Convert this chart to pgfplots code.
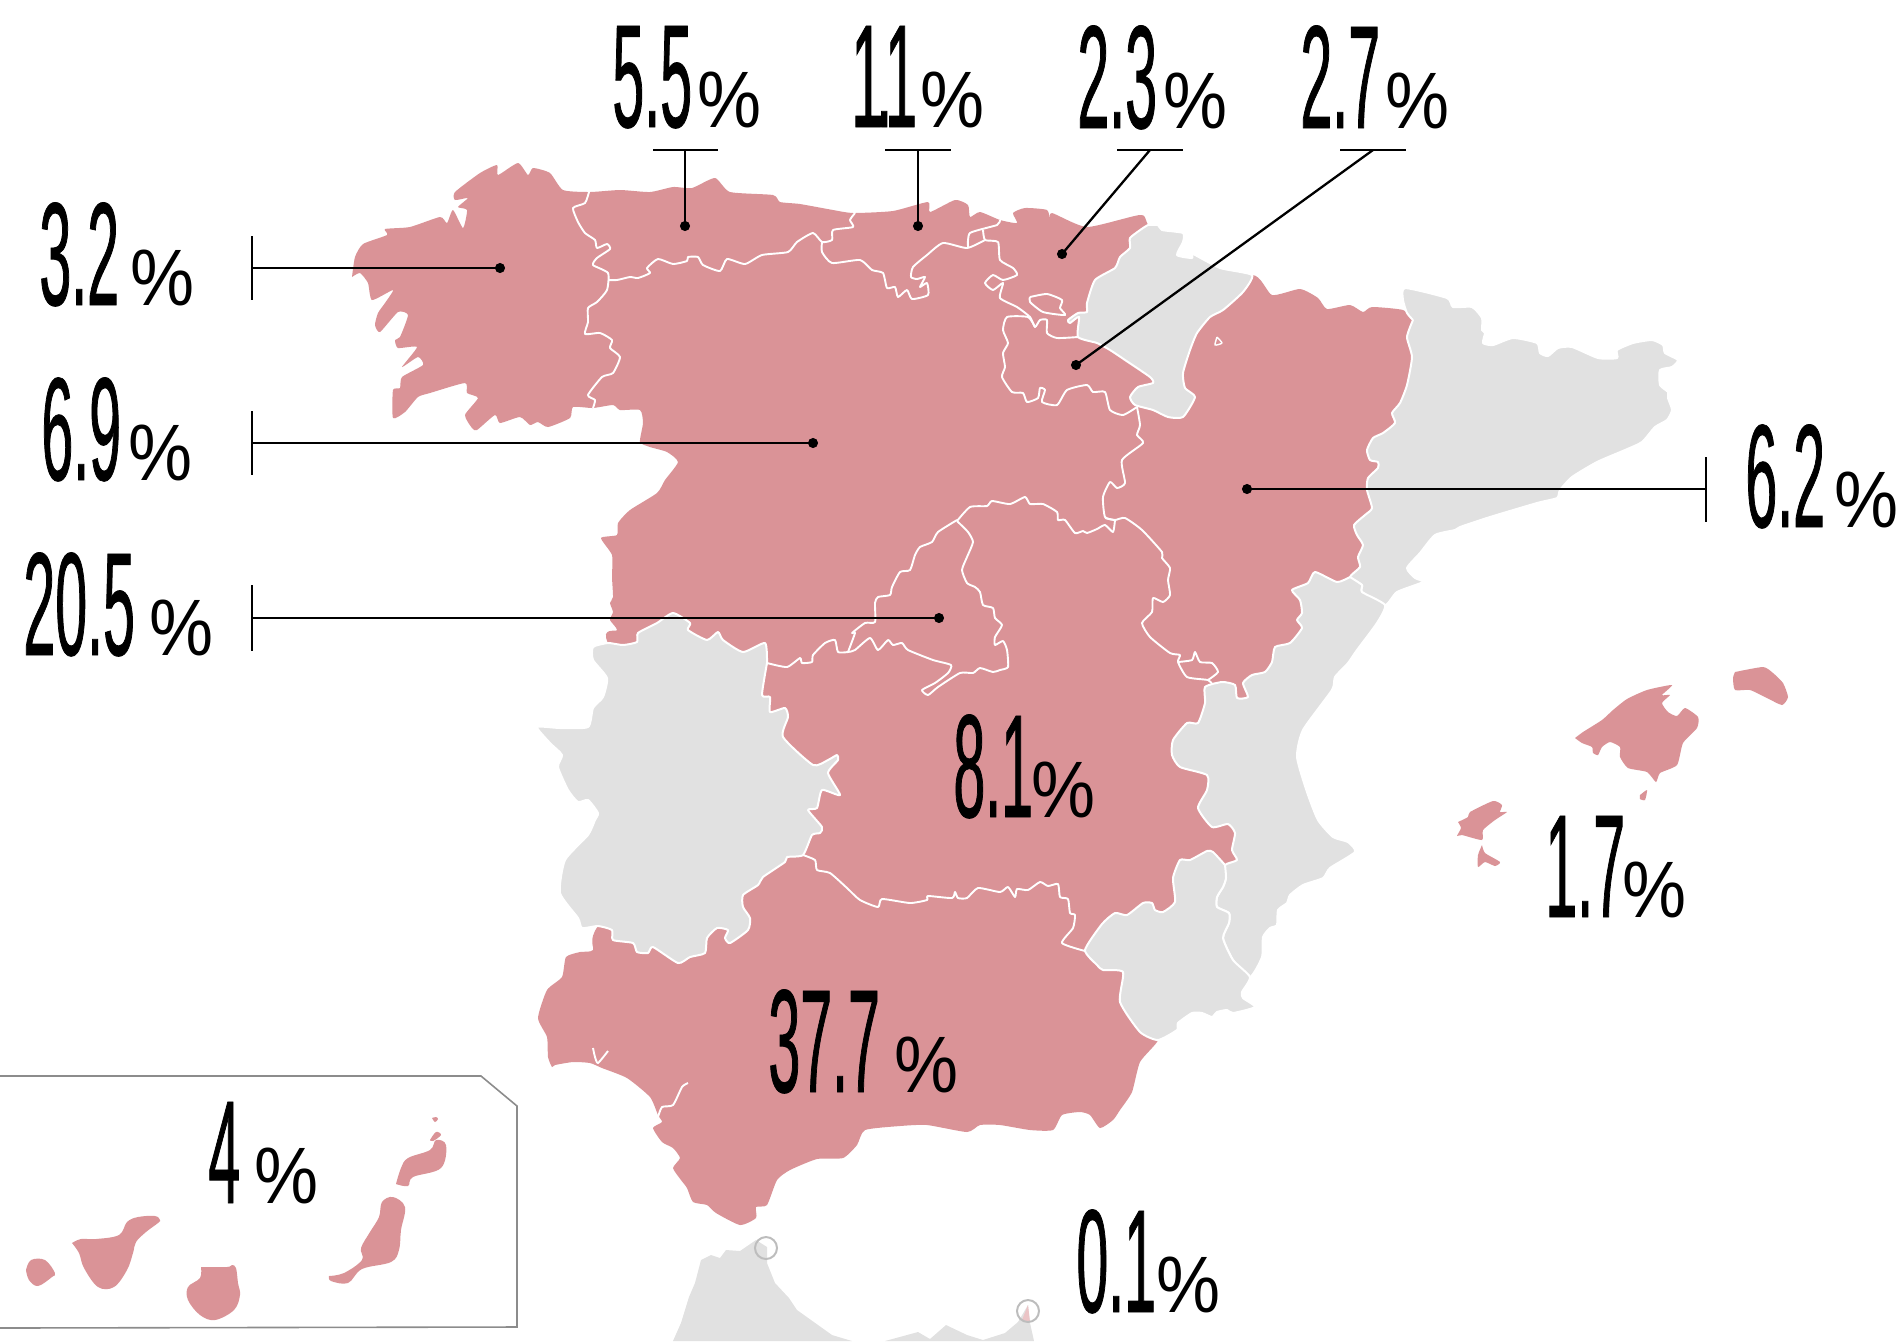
\documentclass[border=0pt]{standalone}
\usepackage{fontspec}
\usepackage{pgfplots}
\pgfplotsset{compat=1.18}
\definecolor{rosa}{HTML}{DA9397}
\definecolor{gris}{HTML}{E1E1E1}
\definecolor{marco}{HTML}{8C8C8C}
\definecolor{anillo}{HTML}{BDBDBD}
\newfontfamily\numf[FakeStretch=0.39,FakeBold=0.5]{Liberation Sans}
\newfontfamily\pctf[FakeStretch=0.9]{Liberation Sans}
\newcommand{\pct}[4]{%
  \node[anchor=base west,inner sep=0pt,text=black] at (axis cs:#1,#2) {\fontsize{73.5}{74}\numf #3};
  \node[anchor=base west,inner sep=0pt,text=black] at (axis cs:#4,#2) {\fontsize{40}{40}\pctf\%};}
\tikzset{
  tierra/.style={fill=rosa,draw=none,smooth,tension=.35},
  region/.style={fill=gris,draw=white,line width=1pt,line join=round,smooth,tension=.35},
  borde/.style={draw=white,line width=.95pt,line join=round,fill=none,smooth,tension=.35},
  isla/.style={fill=rosa,draw=none,smooth,tension=.6},
  guia/.style={draw=black,line width=1.15pt},
}
\begin{document}
\begin{tikzpicture}
\begin{axis}[name=a,width=950pt,height=670.5pt,scale only axis,hide axis,clip=false,
  xmin=0,xmax=1900,ymin=0,ymax=1341,y dir=reverse]

% peninsula, everything rosa; the grey regions go on top
\addplot[tierra] coordinates {
(352,277)(355,257)(363,244)(387,235)(385,229)(410,227)(440,217)(447,223)(453,210)(463,228)(467,210)(458,207)(468,198)(455,200)(455,192)(480,173)(497,165)(498,175)(518,163)(528,175)(533,168)(550,173)(563,190)(590,192)(620,190)(650,192)(673,187)(692,188)(715,178)(730,192)(773,195)(780,202)(800,204)(833,210)(853,213)(893,211)(928,202)(930,212)(955,200)(968,205)(970,217)(980,212)(1000,220)(1017,223)(1013,213)(1025,208)(1047,210)(1050,220)(1052,213)(1087,227)(1140,215)(1148,225)
(1180,300)(1252,275)
(1272,295)(1300,289)(1318,298)(1327,309)(1350,305)(1363,312)(1372,307)(1403,310)(1413,320)
(1407,337)(1412,357)(1407,385)(1400,403)(1392,413)(1395,423)(1383,433)(1373,438)(1367,450)(1370,460)(1378,462)(1378,468)(1368,478)(1367,490)(1372,508)(1365,515)(1354,525)(1357,535)(1363,545)(1358,557)(1360,567)(1350,577)
(1337,582)(1315,572)(1308,583)(1292,590)(1300,600)(1302,613)(1297,620)(1302,628)(1290,643)(1275,647)(1272,662)(1265,672)(1252,675)(1243,683)(1248,697)(1237,698)(1235,685)(1222,682)(1205,687)
(1205,703)(1198,723)(1187,723)(1173,740)(1172,755)(1180,767)(1207,775)(1207,790)(1198,808)(1212,827)(1228,824)(1235,833)(1232,850)(1237,860)(1225,865)
(1213,852)(1207,851)(1190,860)(1180,860)(1173,878)(1175,902)(1163,912)(1155,910)(1152,903)(1143,903)(1127,915)(1115,913)(1102,924)(1085,950)
(1097,965)(1103,970)(1123,972)(1120,1002)(1140,1032)(1158,1040)
(1140,1062)(1132,1092)(1120,1110)(1113,1120)(1100,1128)(1090,1115)(1080,1112)(1062,1115)(1053,1130)(1030,1130)(1000,1125)(980,1125)(967,1132)(927,1125)(900,1126)(865,1130)(857,1145)(843,1158)(817,1159)(790,1170)(777,1180)(767,1205)(756,1207)(756,1218)(740,1225)(716,1213)(707,1205)(693,1202)(687,1188)(681,1180)
(673,1168)(680,1158)(673,1148)(662,1142)(653,1128)(662,1122)(658,1115)(650,1097)(627,1078)(602,1068)(590,1063)(573,1062)(555,1065)(552,1067)(548,1057)(547,1037)(538,1018)(547,990)(562,977)(566,957)(580,952)(593,950)(598,926)
(700,800)(608,643)
(617,630)(610,620)(613,612)(610,603)(613,597)(612,577)(612,555)(601,538)(617,535)(618,523)(630,510)(657,493)(665,480)(678,462)(667,452)(650,447)(640,442)(643,423)(640,410)(620,410)(613,405)(593,408)(573,407)(570,418)(548,427)(538,422)(530,425)(520,417)(500,423)(495,415)(477,430)(472,428)(465,415)(478,398)(467,393)(465,383)(430,393)(418,397)(405,412)(393,418)(393,390)(400,388)(402,377)(423,365)(418,357)(402,367)(417,347)(398,348)(395,340)(400,337)(408,315)(398,312)(380,332)(375,325)(378,313)(385,303)(393,290)(372,300)(368,283)(360,273)(352,277)
};

% Navarra
\addplot[region] coordinates {
(1148,225)(1158,225)(1162,230)(1183,233)(1183,242)(1177,255)(1192,258)(1193,254)(1220,268)(1252,275)(1243,292)(1223,310)(1210,317)(1197,333)(1190,350)(1183,373)(1185,388)(1195,397)(1183,417)(1168,417)(1153,410)(1135,405)(1130,397)(1138,387)(1153,383)(1150,377)(1128,362)(1110,350)(1097,343)(1078,337)(1079,317)(1070,323)(1068,320)(1078,313)(1087,312)(1087,303)(1095,280)(1115,268)(1120,257)(1130,248)(1130,238)(1143,228)(1148,225)
};
% Catalunya
\addplot[region] coordinates {
(1413,320)(1407,337)(1412,357)(1407,385)(1400,403)(1392,413)(1395,423)(1383,433)(1373,438)(1367,450)(1370,460)(1378,462)(1378,468)(1368,478)(1367,490)(1372,508)(1365,515)(1354,525)(1357,535)(1363,545)(1358,557)(1360,567)(1350,577)(1362,585)(1362,592)(1385,605)(1397,592)(1423,582)(1415,578)(1407,568)(1420,553)(1435,535)(1455,530)(1460,527)(1490,517)(1537,503)(1557,498)(1560,490)(1572,477)(1597,462)(1625,450)(1642,442)(1655,427)(1667,420)(1672,410)(1668,398)(1668,392)(1660,385)(1660,370)(1672,367)(1678,360)(1665,353)(1663,345)(1652,340)(1633,343)(1617,350)(1617,358)(1598,358)(1572,347)(1558,348)(1548,356)(1540,353)(1537,343)(1513,338)(1493,345)(1483,343)(1485,333)(1482,330)(1482,318)(1472,307)(1453,307)(1447,298)(1405,288)(1403,300)(1407,313)(1413,320)
};
% Comunitat Valenciana
\addplot[region] coordinates {
(1350,577)(1337,582)(1315,572)(1308,583)(1292,590)(1300,600)(1302,613)(1297,620)(1302,628)(1290,643)(1275,647)(1272,662)(1265,672)(1252,675)(1243,683)(1248,697)(1237,698)(1235,685)(1222,682)(1205,687)(1205,703)(1198,723)(1187,723)(1173,740)(1172,755)(1180,767)(1207,775)(1207,790)(1198,808)(1212,827)(1228,824)(1235,833)(1232,850)(1237,860)(1225,865)(1226,878)(1223,887)(1217,897)(1217,907)(1229,913)(1229,923)(1223,938)(1233,960)(1250,977)(1262,957)(1263,937)(1270,928)(1277,925)(1278,910)(1287,903)(1290,895)(1303,885)(1323,878)(1330,868)(1355,852)(1348,842)(1333,837)(1318,820)(1307,792)(1297,757)(1303,730)(1332,690)(1335,677)(1348,663)(1357,650)(1377,623)(1385,605)(1362,592)(1362,585)(1350,577)
};
% Murcia
\addplot[region] coordinates {
(1225,865)(1213,852)(1207,851)(1190,860)(1180,860)(1173,878)(1175,902)(1163,912)(1155,910)(1152,903)(1143,903)(1127,915)(1115,913)(1102,924)(1085,950)(1097,965)(1103,970)(1123,972)(1120,1002)(1140,1032)(1158,1040)(1177,1030)(1178,1023)(1192,1013)(1202,1013)(1212,1017)(1217,1012)(1227,1010)(1233,1013)(1255,1007)(1243,998)(1242,992)(1250,977)(1233,960)(1223,938)(1229,923)(1229,913)(1217,907)(1217,897)(1223,887)(1226,878)(1225,865)
};
% Extremadura
\addplot[region] coordinates {
(767,663)(762,695)(770,697)(770,712)(785,708)(788,717)(783,737)(813,765)(828,760)(837,755)(838,760)(828,773)(840,795)(822,790)(817,808)(808,810)(822,827)(820,833)(812,835)(803,855)(787,857)(785,862)(763,877)(758,885)(743,895)(743,907)(750,918)(748,930)(730,943)(725,938)(728,930)(717,928)(707,938)(705,953)(690,957)(678,963)(653,947)(648,953)(637,952)(633,943)(613,940)(612,930)(598,926)(582,928)(578,918)(560,893)(565,860)(588,835)(595,820)(598,813)(588,800)(578,802)(568,790)(558,767)(562,755)(550,743)(537,727)(560,728)(588,727)(593,708)(603,697)(607,678)(593,660)(593,647)(608,643)(623,645)(637,642)(638,633)(657,623)(673,613)(690,623)(688,630)(707,640)(718,632)(723,640)(743,652)(765,643)(767,663)
};

% borders between rosa regions
\addplot[borde] coordinates {(589,192)(585,203)(573,208)(578,222)(585,233)(595,240)(597,248)(607,244)(610,249)(597,258)(593,265)(608,273)(607,290)(597,302)(588,308)(588,322)(585,334)(600,333)(612,340)(610,348)(620,357)(613,373)(602,377)(588,395)(595,400)(593,408)};
\addplot[borde] coordinates {(608,280)(617,280)(630,277)(638,278)(650,273)(647,268)(658,259)(673,264)(687,261)(688,257)(698,257)(703,265)(720,271)(727,259)(745,264)(762,255)(788,252)(797,242)(813,233)(822,242)(832,240)(833,230)(853,227)(850,220)(855,213)};
\addplot[borde] coordinates {(822,242)(822,252)(832,263)(860,260)(872,270)(883,273)(887,288)(895,287)(898,297)(907,290)(912,299)(928,295)(927,283)(920,287)(925,277)(917,279)(911,277)(913,267)(927,255)(943,243)(967,248)(985,240)};
\addplot[borde] coordinates {(1000,220)(997,225)(970,233)(968,247)};
\addplot[borde] coordinates {(983,230)(985,240)(998,242)(1000,260)(1013,268)(1017,275)(1003,280)(993,275)(985,283)(993,290)(1003,283)(1000,298)(1017,307)(1030,317)(1035,327)(1040,320)(1047,320)(1047,333)(1057,338)(1078,337)};
\addplot[borde] coordinates {(1030,297)(1047,294)(1062,300)(1060,308)(1065,315)(1043,312)(1030,302)(1030,297)};
\addplot[borde] coordinates {(1035,327)(1028,317)(1007,317)(1003,330)(1008,343)(1003,353)(1005,367)(1002,377)(1012,392)(1023,393)(1027,402)(1038,398)(1040,388)(1045,390)(1042,402)(1057,405)(1067,390)(1087,385)(1093,392)(1105,392)(1110,410)(1123,415)(1137,407)};
\addplot[borde] coordinates {(1137,407)(1140,425)(1137,435)(1143,443)(1122,460)(1125,483)(1117,488)(1110,482)(1103,497)(1105,517)(1115,520)};
\addplot[borde] coordinates {(1105,518)(1115,520)(1125,518)(1142,530)(1162,552)(1162,558)(1170,568)(1168,580)(1170,595)(1163,602)(1153,598)(1152,612)(1142,623)(1150,637)(1170,653)(1180,655)(1178,662)(1187,677)(1208,680)(1212,684)};
\addplot[borde] coordinates {(1178,662)(1192,660)(1195,652)(1200,662)(1212,663)(1218,672)(1208,680)};
\addplot[borde] coordinates {(957,521)(970,507)(987,506)(992,501)(1010,504)(1025,497)(1030,504)(1043,504)(1057,512)(1058,520)(1065,520)(1075,533)(1083,531)(1087,533)(1097,529)(1105,525)(1113,532)(1115,520)};
\addplot[borde] coordinates {(957,521)(968,532)(973,542)(967,557)(962,570)(967,583)(975,587)(980,592)(983,605)(993,608)(995,618)(1002,625)(995,637)(995,645)(1003,641)(1007,650)(1008,667)(1000,670)(993,672)(980,668)(973,673)(960,673)(938,687)(928,695)(922,690)(935,683)(948,673)(951,665)(933,660)(908,650)(902,643)(893,645)(888,640)(878,650)(870,638)(855,650)(848,652)(838,652)(835,640)(825,643)(813,655)(812,662)(802,663)(800,658)(787,667)(767,663)};
\addplot[borde] coordinates {(848,652)(855,633)(852,633)(865,623)(875,622)(875,603)(878,597)(890,595)(892,587)(900,572)(910,570)(915,555)(920,547)(932,542)(938,532)(957,520)};
\addplot[borde] coordinates {(803,855)(815,860)(817,870)(830,873)(847,888)(860,900)(878,907)(882,899)(910,903)(927,900)(928,896)(952,898)(955,892)(958,898)(967,898)(978,888)(1000,892)(1008,887)(1015,897)(1017,889)(1028,890)(1040,882)(1048,886)(1058,884)(1060,897)(1068,899)(1070,913)(1075,915)(1073,928)(1062,943)(1085,951)};
\addplot[borde] coordinates {(593,1048)(595,1057)(598,1063)(608,1051)};
\addplot[borde] coordinates {(688,1083)(682,1087)(673,1105)(662,1107)(658,1117)};
\addplot[borde,line width=.7pt] coordinates {(1217,337)(1222,343)(1215,345)(1217,337)};

% Baleares
\addplot[tierra] coordinates {(1575,738)(1583,732)(1602,720)(1613,710)(1627,699)(1647,690)(1672,685)(1662,695)(1670,695)(1662,703)(1668,712)(1677,716)(1685,708)(1698,717)(1697,728)(1683,743)(1677,765)(1660,773)(1656,782)(1647,772)(1628,768)(1620,757)(1620,747)(1610,742)(1602,747)(1598,755)(1593,753)(1592,747)(1582,743)(1575,738)};
\addplot[tierra] coordinates {(1735,672)(1763,667)(1773,673)(1783,683)(1788,697)(1782,705)(1767,698)(1750,690)(1735,690)(1733,678)(1735,672)};
\addplot[tierra] coordinates {(1640,795)(1647,790)(1645,800)(1640,799)(1640,795)};
\addplot[tierra] coordinates {(1458,822)(1468,817)(1470,812)(1493,801)(1502,805)(1500,812)(1507,812)(1495,820)(1483,830)(1482,840)(1462,835)(1457,836)(1461,828)(1458,822)};
\addplot[tierra] coordinates {(1482,845)(1485,853)(1500,862)(1495,866)(1485,862)(1478,867)(1478,855)(1482,845)};

% Canarias
\addplot[draw=marco,line width=.8pt,fill=none] coordinates {(0,1076)(481,1076)(517,1106)(517,1327)(0,1328)};
\addplot[isla] coordinates {(26,1270)(31,1260)(45,1260)(55,1273)(52,1277)(38,1286)(29,1280)(26,1270)};
\addplot[isla] coordinates {(72,1243)(81,1239)(96,1239)(119,1235)(127,1222)(138,1217)(155,1216)(160,1220)(158,1223)(146,1232)(136,1242)(133,1253)(127,1270)(114,1287)(98,1287)(84,1268)(79,1253)(72,1243)};
\addplot[isla] coordinates {(201,1267)(227,1267)(232,1265)(236,1268)(238,1283)(240,1295)(234,1310)(215,1320)(200,1315)(188,1300)(188,1287)(200,1278)(201,1267)};
\addplot[isla] coordinates {(329,1276)(344,1273)(362,1260)(361,1248)(370,1232)(379,1217)(382,1202)(393,1197)(405,1207)(401,1230)(399,1250)(391,1262)(362,1269)(348,1283)(331,1281)(329,1276)};
\addplot[isla] coordinates {(396,1184)(401,1168)(408,1158)(430,1150)(436,1140)(446,1145)(441,1168)(413,1177)(408,1186)(396,1184)};
\addplot[isla] coordinates {(430,1140)(436,1132)(441,1135)(433,1141)(430,1140)};
\addplot[isla] coordinates {(432,1118)(436,1117)(438,1119)(435,1122)(432,1118)};

% Ceuta, Melilla and the African coast
\addplot[fill=gris,draw=none] coordinates {(673,1341)(681,1323)(689,1297)(695,1283)(701,1260)(711,1255)(720,1258)(726,1250)(740,1251)(756,1240)(767,1247)(767,1263)(775,1283)(789,1298)(797,1310)(832,1335)(852,1341)} --cycle;
\addplot[fill=gris,draw=none] coordinates {(885,1341)(918,1332)(930,1339)(946,1325)(967,1335)(983,1340)(1005,1333)(1018,1322)(1028,1305)(1030,1323)(1034,1341)} --cycle;
\addplot[fill=rosa!55,draw=none] coordinates {(1022,1320)(1028,1305)(1030,1322)} --cycle;
\addplot[only marks,mark=o,mark size=5.5pt,mark options={draw=anillo,line width=1pt,fill=none}] coordinates {(766,1248)(1028,1311)};

% leader lines
\addplot[guia] coordinates {(252,268)(500,268)};
\addplot[guia] coordinates {(252,236)(252,300)};
\addplot[guia] coordinates {(252,443)(813,443)};
\addplot[guia] coordinates {(252,411)(252,475)};
\addplot[guia] coordinates {(252,618)(939,618)};
\addplot[guia] coordinates {(252,585)(252,651)};
\addplot[guia] coordinates {(1247,489)(1706,489)};
\addplot[guia] coordinates {(1706,457)(1706,522)};
\addplot[guia] coordinates {(653,150)(718,150)};
\addplot[guia] coordinates {(685,150)(685,226)};
\addplot[guia] coordinates {(885,150)(951,150)};
\addplot[guia] coordinates {(918,150)(918,226)};
\addplot[guia] coordinates {(1117,150)(1183,150)};
\addplot[guia] coordinates {(1150,150)(1062,254)};
\addplot[guia] coordinates {(1340,150)(1406,150)};
\addplot[guia] coordinates {(1373,150)(1076,365)};
\addplot[only marks,mark=*,mark size=2.3pt,mark options={fill=black,draw=black}] coordinates {(500,268)(813,443)(939,618)(1247,489)(685,226)(918,226)(1062,254)(1076,365)};

% values
\pct{612}{127}{5.5}{697}
\pct{851}{127}{1\kern-3.5pt.\kern-3.5pt1}{920}
\pct{1077}{128}{2.3}{1163}
\pct{1300}{128}{2.7}{1385}
\pct{39}{305}{3.2}{130}
\pct{41}{480}{6.9}{128}
\pct{23}{655}{20.5}{149}
\pct{1745}{527}{6.2}{1834}
\pct{953}{817}{8.1}{1031}
\pct{768}{1092}{37.7}{894}
\pct{1545}{917}{1.7}{1622}
\pct{208}{1203}{4}{254}
\pct{1076}{1312}{0.1}{1156}
\end{axis}
\pgfresetboundingbox
\path[use as bounding box] (a.south west) rectangle (a.north east);
\end{tikzpicture}
\end{document}
